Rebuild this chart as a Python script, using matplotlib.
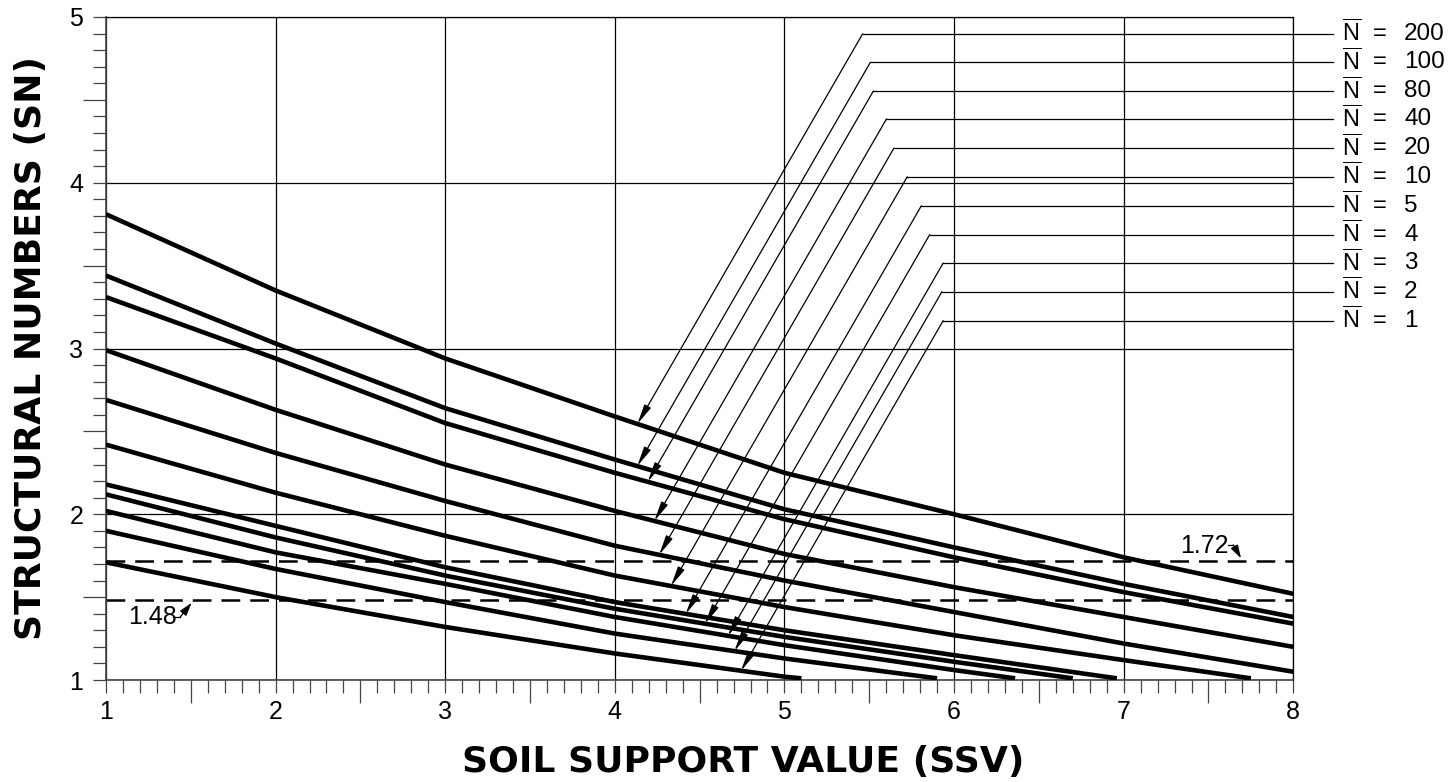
import numpy as np
import matplotlib
matplotlib.use('Agg')
import matplotlib.pyplot as plt
from matplotlib.ticker import MultipleLocator

plt.rcParams['mathtext.fontset'] = 'custom'
plt.rcParams['mathtext.rm'] = 'Liberation Sans'
plt.rcParams['lines.scale_dashes'] = False

# curves: SSV -> SN for each design traffic N
x_full = [1, 2, 3, 4, 5, 6, 7, 8]
sn_200 = [3.81, 3.35, 2.94, 2.59, 2.25, 2.00, 1.74, 1.52]
sn_100 = [3.44, 3.03, 2.64, 2.33, 2.03, 1.80, 1.58, 1.38]
sn_80 = [3.31, 2.94, 2.55, 2.25, 1.97, 1.74, 1.53, 1.34]
sn_40 = [2.99, 2.63, 2.30, 2.02, 1.76, 1.56, 1.38, 1.20]
sn_20 = [2.69, 2.37, 2.08, 1.81, 1.60, 1.41, 1.22, 1.05]
x_10 = [1, 2, 3, 4, 5, 6, 7, 7.75]
sn_10 = [2.42, 2.13, 1.87, 1.63, 1.44, 1.27, 1.12, 1.01]
x_5 = [1, 2, 3, 4, 5, 6, 6.96]
sn_5 = [2.18, 1.93, 1.68, 1.47, 1.30, 1.15, 1.01]
x_4 = [1, 2, 3, 4, 5, 6, 6.70]
sn_4 = [2.12, 1.86, 1.63, 1.43, 1.26, 1.11, 1.01]
x_3 = [1, 2, 3, 4, 5, 6, 6.36]
sn_3 = [2.02, 1.77, 1.58, 1.38, 1.21, 1.06, 1.01]
x_2 = [1, 2, 3, 4, 5, 5.90]
sn_2 = [1.90, 1.67, 1.47, 1.28, 1.13, 1.01]
x_1 = [1, 2, 3, 4, 5, 5.10]
sn_1 = [1.71, 1.50, 1.32, 1.16, 1.02, 1.01]

n_names = ['200', '100', '80', '40', '20', '10', '5', '4', '3', '2', '1']
curve_x = [x_full, x_full, x_full, x_full, x_full, x_10, x_5, x_4, x_3, x_2, x_1]
curve_y = [sn_200, sn_100, sn_80, sn_40, sn_20, sn_10, sn_5, sn_4, sn_3, sn_2, sn_1]

# where each leader arrow hits its curve, and the label heights
arrow_x = [4.133, 4.132, 4.194, 4.233, 4.261, 4.331, 4.418, 4.532, 4.667, 4.705, 4.744]
label_y = [4.899, 4.726, 4.553, 4.384, 4.209, 4.036, 3.861, 3.687, 3.515, 3.343, 3.168]

ref_lines = [1.72, 1.48]

fig = plt.figure(figsize=(14.52, 7.82), dpi=100)
ax = fig.add_axes([106 / 1452, 102 / 782, 1187.3 / 1452, 663 / 782])
ax.set_xlim(1, 8)
ax.set_ylim(1, 5)

tick_col = '#444444'
ax.xaxis.set_major_locator(MultipleLocator(1))
ax.yaxis.set_major_locator(MultipleLocator(1))
ax.xaxis.set_minor_locator(MultipleLocator(0.1))
ax.yaxis.set_minor_locator(MultipleLocator(0.1))
ax.tick_params(which='both', direction='out', length=9.3, width=0.9, color=tick_col,
               top=False, right=False)
ax.tick_params(axis='x', which='major', pad=5, labelsize=18)
ax.tick_params(axis='y', which='major', pad=7, labelsize=18)
for lab in ax.get_xticklabels() + ax.get_yticklabels():
    lab.set_fontfamily('Liberation Sans')

ax.grid(which='major', color='black', linewidth=0.9)
for side in ['left', 'bottom']:
    ax.spines[side].set_color(tick_col)
    ax.spines[side].set_linewidth(1.2)
for side in ['right', 'top']:
    ax.spines[side].set_color('black')
    ax.spines[side].set_linewidth(0.9)

# half-unit ticks are longer
for axis in [ax.xaxis, ax.yaxis]:
    locs = axis.get_minorticklocs()
    ticks = axis.get_minor_ticks(len(locs))
    for loc, t in zip(locs, ticks):
        if abs((loc % 1) - 0.5) < 1e-6:
            t.tick1line.set_markersize(16.5)

for xs, ys in zip(curve_x, curve_y):
    ax.plot(xs, ys, color='black', linewidth=3.3, solid_capstyle='butt',
            solid_joinstyle='round', zorder=3)

for yv in ref_lines:
    ax.plot([1, 8], [yv, yv], color='black', linewidth=1.8, dashes=(13.5, 7.2), zorder=2)

# leader lines with arrows
tan60 = np.tan(np.radians(60))
end_x = 8.235
for name, xs, ys, ax_x, ly in zip(n_names, curve_x, curve_y, arrow_x, label_y):
    ty = np.interp(ax_x, xs, ys)
    tip = ax.transData.transform((ax_x, ty))
    lab = ax.transData.transform((1, ly))
    knee_disp = (tip[0] + (lab[1] - tip[1]) / tan60, lab[1])
    kx, ky = ax.transData.inverted().transform(knee_disp)
    ax.plot([kx, end_x], [ly, ly], color='black', linewidth=0.9, clip_on=False, zorder=4)
    ax.annotate('', xy=(ax_x, ty), xytext=(kx, ky),
                arrowprops=dict(arrowstyle='-|>,head_length=0.6,head_width=0.11',
                                color='black', linewidth=0.9, shrinkA=0, shrinkB=0,
                                mutation_scale=20),
                annotation_clip=False, zorder=4)
    ax.text(8.29, ly, r'$\overline{\mathrm{N}}$', fontsize=17, va='center', ha='left',
            family='Liberation Sans', clip_on=False)
    ax.text(8.47, ly, '=', fontsize=17, va='center', ha='left',
            family='Liberation Sans', clip_on=False)
    ax.text(8.653, ly, name, fontsize=17.5, va='center', ha='left',
            family='Liberation Sans', clip_on=False)

# 1.72 / 1.48 callouts
ax.text(7.333, 1.809, '1.72', fontsize=18, va='center', ha='left', family='Liberation Sans')
ax.plot([7.617, 7.647], [1.815, 1.815], color='black', linewidth=0.9, zorder=4)
ax.annotate('', xy=(7.692, 1.734), xytext=(7.647, 1.815),
            arrowprops=dict(arrowstyle='-|>,head_length=0.4,head_width=0.12',
                            color='black', linewidth=0.9, shrinkA=0, shrinkB=0,
                            mutation_scale=20))
ax.text(1.13, 1.378, '1.48', fontsize=18, va='center', ha='left', family='Liberation Sans')
ax.plot([1.395, 1.436], [1.378, 1.378], color='black', linewidth=0.9, zorder=4)
ax.annotate('', xy=(1.505, 1.466), xytext=(1.436, 1.378),
            arrowprops=dict(arrowstyle='-|>,head_length=0.4,head_width=0.12',
                            color='black', linewidth=0.9, shrinkA=0, shrinkB=0,
                            mutation_scale=20))

fig.text(0.512, 0.0256, 'SOIL SUPPORT VALUE (SSV)', fontsize=26, fontweight='bold',
         family='DejaVu Sans', ha='center', va='center')
fig.text(0.0214, (782 - 348.5) / 782, 'STRUCTURAL NUMBERS (SN)', fontsize=26,
         fontweight='bold', family='DejaVu Sans', ha='center', va='center', rotation=90)

fig.savefig('out.png', dpi=100)
